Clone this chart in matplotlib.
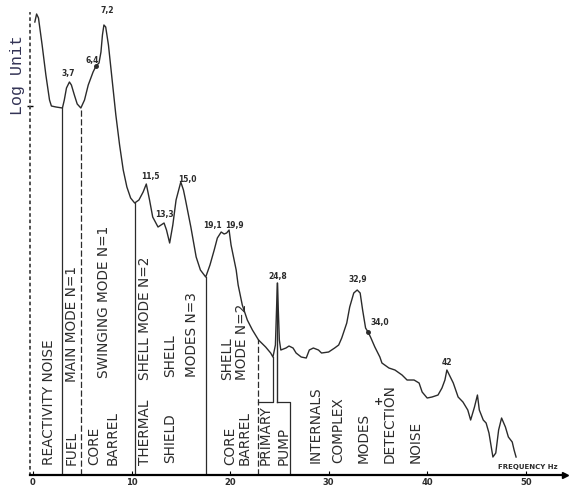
import numpy as np
import matplotlib.pyplot as plt

# Neutron noise spectrum: frequency (Hz) vs level (log units above baseline)
freq = [0.19, 0.37, 0.56, 0.93, 1.31, 1.68, 1.87, 2.34, 2.99, 3.18,
        3.40, 3.70, 3.90, 4.20, 4.49, 4.86, 5.23, 5.61, 6.10, 6.40,
        6.70, 6.90, 7.05, 7.20, 7.38, 7.66, 8.04, 8.41, 8.79, 9.16,
        9.53, 9.91, 10.32, 10.75, 11.18, 11.50, 11.83, 12.15, 12.69, 13.30,
        13.55, 13.87, 14.19, 14.52, 15.00, 15.27, 15.48, 16.02, 16.56, 16.99,
        17.53, 17.96, 18.39, 18.71, 19.10, 19.40, 19.65, 19.90, 20.10, 20.62,
        20.82, 21.24, 21.75, 22.27, 22.89, 23.61, 24.12, 24.35, 24.60, 24.80,
        25.00, 25.15, 25.67, 25.98, 26.39, 26.70, 27.22, 27.73, 28.04, 28.45,
        28.97, 29.28, 30.00, 30.61, 31.02, 31.33, 31.84, 32.14, 32.55, 32.90,
        33.20, 33.45, 33.75, 34.00, 34.25, 34.69, 35.20, 35.41, 36.12, 36.73,
        37.45, 37.96, 38.67, 39.18, 39.49, 40.00, 40.49, 41.10, 41.50, 41.80,
        42.00, 42.65, 43.14, 43.63, 44.12, 44.41, 44.80, 45.10, 45.29, 45.69,
        45.98, 46.27, 46.67, 46.96, 47.25, 47.55, 47.94, 48.24, 48.63, 48.82,
        49.02]
level = [4.53, 4.61, 4.57, 4.30, 4.00, 3.75, 3.69, 3.68, 3.67, 3.75,
         3.87, 3.93, 3.90, 3.80, 3.71, 3.67, 3.75, 3.90, 4.03, 4.09,
         4.12, 4.23, 4.40, 4.50, 4.48, 4.30, 3.95, 3.60, 3.30, 3.05,
         2.88, 2.77, 2.72, 2.75, 2.83, 2.91, 2.75, 2.58, 2.48, 2.52,
         2.45, 2.32, 2.50, 2.75, 2.93, 2.85, 2.75, 2.48, 2.18, 2.05,
         1.98, 2.10, 2.25, 2.37, 2.43, 2.41, 2.42, 2.45, 2.30, 2.05,
         1.90, 1.70, 1.55, 1.45, 1.35, 1.28, 1.22, 1.18, 1.30, 1.92,
         1.35, 1.25, 1.27, 1.29, 1.27, 1.22, 1.18, 1.17, 1.25, 1.27,
         1.25, 1.22, 1.23, 1.27, 1.30, 1.37, 1.52, 1.68, 1.82, 1.85,
         1.82, 1.65, 1.47, 1.43, 1.38, 1.28, 1.18, 1.12, 1.07, 1.05,
         1.00, 0.95, 0.95, 0.92, 0.83, 0.77, 0.78, 0.80, 0.87, 0.95,
         1.05, 0.92, 0.78, 0.73, 0.65, 0.55, 0.68, 0.80, 0.65, 0.55,
         0.52, 0.42, 0.18, 0.22, 0.45, 0.57, 0.48, 0.38, 0.33, 0.25,
         0.18]

# labelled resonance frequencies (Hz)
peak_freq = [3.7, 6.4, 7.2, 11.5, 13.3, 15.0, 19.1, 19.9, 24.8, 32.9, 34.0, 42]
peak_text = ['3,7', '6,4', '7,2', '11,5', '13,3', '15,0', '19,1', '19,9',
             '24,8', '32,9', '34,0', '42']

# zone boundaries (Hz) and the primary pump band
zone_edges = [2.99, 4.86, 10.32, 17.53, 22.85]
pump_band = [22.85, 24.35, 24.8, 26.06]
pump_floor = 0.73

x_ticks = [0, 10, 20, 30, 40, 50]

ink = '#2b2b2b'

fig = plt.figure(figsize=(5.77, 4.88), dpi=100)
ax = fig.add_axes([0.052, 0.0266, 0.936, 0.9734])
ax.set_xlim(-0.3, 54.5)
ax.set_ylim(0, 4.75)

# spectrum trace
ax.plot(freq, level, color=ink, lw=1.0)

# vertical zone separators, from the trace down to the axis
for i, f in enumerate(zone_edges):
    top = np.interp(f, freq, level)
    ls = (0, (5, 2)) if i in (1, 4) else '-'
    ax.plot([f, f], [0, top], color=ink, lw=0.9, ls=ls)

# primary pump box
a, b, c, d = pump_band
ax.plot([a, b, b], [pump_floor, pump_floor, np.interp(b, freq, level)], color=ink, lw=0.9)
ax.plot([c, c], [pump_floor, np.interp(c, freq, level)], color=ink, lw=1.0)
ax.plot([c, d, d], [pump_floor, pump_floor, 0], color=ink, lw=0.9)

# peak annotations
offsets = [(-1, 9), (-4, 6), (3, 15), (4, 8), (0, 9), (7, 3), (-9, 7), (5, 5),
           (0, 7), (1, 11), (12, 10), (0, 8)]
for f, t, (dx, dy) in zip(peak_freq, peak_text, offsets):
    y = np.interp(f, freq, level)
    ax.annotate(t, (f, y), xytext=(dx, dy), textcoords='offset pixels',
                ha='center', va='center', fontsize=5.5, fontweight='bold', color=ink)
for f in (6.4, 34.0):
    ax.plot(f, np.interp(f, freq, level), 'o', ms=2.5, color=ink)

# zone descriptions
zone_labels = [
    ('REACTIVITY NOISE', 1.59, 0.10),
    ('FUEL', 3.93, 0.10),
    ('MAIN MODE N=1', 3.93, 0.93),
    ('CORE', 6.26, 0.10),
    ('BARREL', 8.13, 0.10),
    ('SWINGING MODE N=1', 7.20, 0.97),
    ('THERMAL', 11.40, 0.10),
    ('SHELL MODE N=2', 11.40, 0.95),
    ('SHIELD', 13.87, 0.12),
    ('SHELL', 13.87, 0.98),
    ('MODES N=3', 16.10, 0.98),
    ('CORE', 20.00, 0.10),
    ('BARREL', 21.50, 0.10),
    ('SHELL', 19.68, 0.95),
    ('MODE N=2', 21.20, 0.95),
    ('PRIMARY', 23.65, 0.10),
    ('PUMP', 25.45, 0.10),
    ('INTERNALS', 28.70, 0.12),
    ('COMPLEX', 31.00, 0.12),
    ('MODES', 33.57, 0.12),
    ('DETECTION', 36.20, 0.12),
    ('NOISE', 38.80, 0.12),
]
for t, x, y in zone_labels:
    ax.text(x, y, t, rotation=90, ha='center', va='bottom', fontsize=9.8, color=ink)
ax.text(35.1, 0.73, '+', ha='center', va='center', fontsize=8, fontweight='bold', color=ink)

# axes: dotted ordinate, arrowed frequency axis
for s in ('top', 'right'):
    ax.spines[s].set_visible(False)
ax.spines['left'].set_linestyle((0, (1, 2.5)))
ax.spines['left'].set_linewidth(1.3)
ax.spines['left'].set_color('#444444')
ax.spines['left'].set_bounds(0, 4.62)
ax.spines['bottom'].set_linewidth(1.6)
ax.spines['bottom'].set_bounds(-0.3, 54.0)
ax.plot([54.0], [0], marker='>', ms=5, color='k', clip_on=False)

ax.set_xticks(x_ticks)
ax.set_xticklabels([str(v) for v in x_ticks], fontsize=6, fontweight='bold', color=ink)
ax.tick_params(axis='x', direction='in', length=3, pad=2)
ax.set_yticks([3.69])
ax.set_yticklabels([''])
ax.tick_params(axis='y', direction='inout', length=5, width=1)

ax.text(47.2, 0.08, 'FREQUENCY Hz', fontsize=5, fontweight='bold', color=ink,
        ha='left', va='center')
fig.text(0.031, 0.846, 'Log Unit', rotation=90, ha='center', va='center',
         fontsize=12, family='Liberation Mono', color='#333355')

fig.savefig('out.png', dpi=100)
